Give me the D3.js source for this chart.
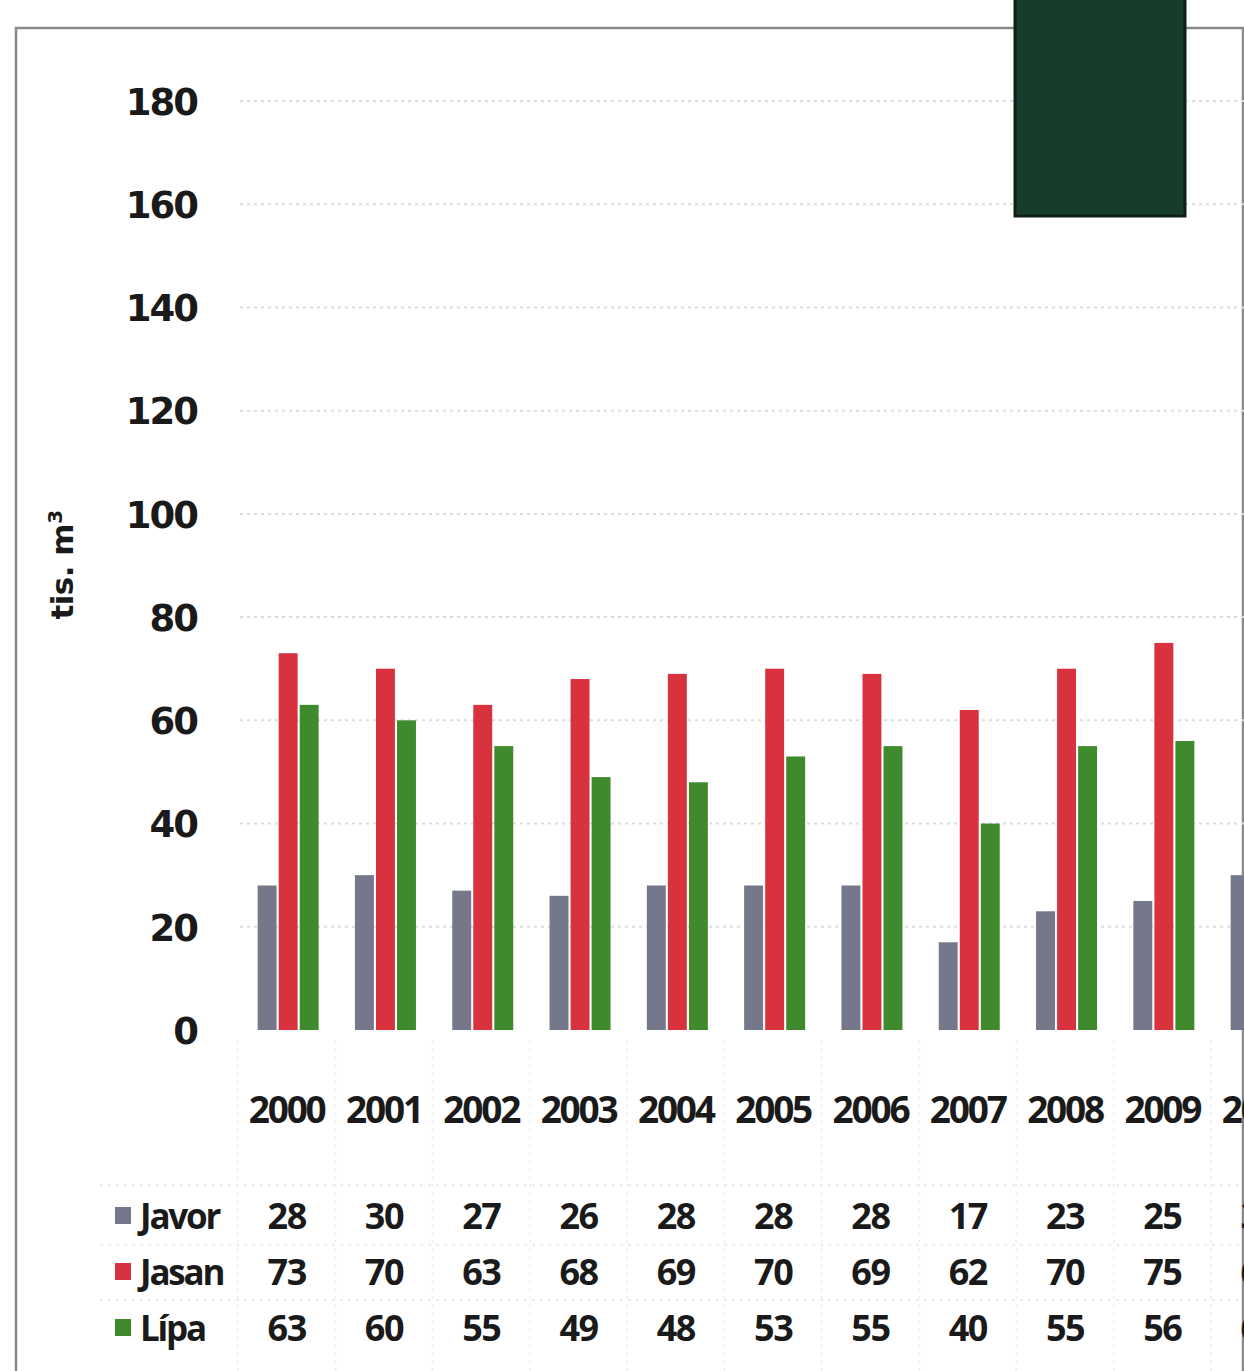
<!DOCTYPE html>
<html><head><meta charset="utf-8">
<script src="https://cdn.jsdelivr.net/npm/d3@7"></script>
<style>
html,body{margin:0;padding:0;background:#fff;overflow:hidden;width:1244px;height:1371px;}
svg{display:block;}
</style></head>
<body>
<script>
const years = ["2000","2001","2002","2003","2004","2005","2006","2007","2008","2009","2010"];
const seriesNames = ["Javor","Jasan","Lípa"];
const javor = [28,30,27,26,28,28,28,17,23,25,30];
const jasan = [73,70,63,68,69,70,69,62,70,75,65];
const lipa  = [63,60,55,49,48,53,55,40,55,56,60];
const yTicks = [0,20,40,60,80,100,120,140,160,180];
const colors = ["#75778a","#d8323e","#3e8a2c"];
const values = [javor, jasan, lipa];

const W = 1400, H = 1371;
const svg = d3.select("body").append("svg").attr("width", W).attr("height", H);

const y = d3.scaleLinear().domain([0,180]).range([1030,101]);
const x = d3.scaleBand().domain(years).range([238, 238 + 97.3*years.length]).paddingInner(0).paddingOuter(0);
const xs = d3.scaleBand().domain(seriesNames).range([-29, 32]).paddingInner(0.1);

// border
svg.append("path").attr("d","M16,1371 L16,28 L1243,28 L1243,1371")
  .attr("fill","none").attr("stroke","#8a8a8a").attr("stroke-width",2.5);

// gridlines
const gy = svg.append("g");
gy.selectAll("line").data(yTicks.filter(d=>d>0)).join("line")
  .attr("x1",240).attr("x2",1244)
  .attr("y1",d=>y(d)).attr("y2",d=>y(d))
  .attr("stroke","#dadde0").attr("stroke-width",2).attr("stroke-dasharray","3,4");

// y axis labels
const yAxis = d3.axisLeft(y).tickValues(yTicks).tickSize(0).tickPadding(0);
const ya = svg.append("g").attr("transform","translate(197,0)").call(yAxis);
ya.select(".domain").remove();
ya.selectAll("text").attr("font-family","DejaVu Sans").attr("font-weight","bold")
  .attr("font-size",37).attr("letter-spacing","-2").attr("fill","#1a1a1a").attr("dy","0.36em");

// y title
svg.append("text").attr("transform","translate(73,565) rotate(-90)")
  .attr("text-anchor","middle").attr("font-family","DejaVu Sans").attr("font-weight","bold")
  .attr("font-size",31).attr("fill","#1a1a1a").attr("letter-spacing","-0.5")
  .html('tis. m<tspan dy="-11" font-size="20">3</tspan>');

// bars
const groups = svg.append("g").selectAll("g").data(years).join("g")
  .attr("transform", d => `translate(${x(d) + x.bandwidth()/2},0)`);
groups.selectAll("rect").data((d,i) => seriesNames.map((s,k)=>({s, v: values[k][i], k})))
  .join("rect")
  .attr("x", d => xs(d.s))
  .attr("width", xs.bandwidth())
  .attr("y", d => y(d.v))
  .attr("height", d => y(0) - y(d.v))
  .attr("fill", d => colors[d.k]);

// x axis labels
const xAxis = d3.axisBottom(x).tickSize(0).tickPadding(0);
const xa = svg.append("g").attr("transform","translate(0,1110)").call(xAxis);
xa.select(".domain").remove();
xa.selectAll("text").attr("font-family","Open Sans").attr("font-weight","bold")
  .attr("font-size",37).attr("letter-spacing","-2.2").attr("fill","#1a1a1a").attr("dy","0.36em");

// table faint grid
const tg = svg.append("g");
tg.selectAll("line.h").data([1185,1245,1300]).join("line")
  .attr("x1",100).attr("x2",1244).attr("y1",d=>d).attr("y2",d=>d)
  .attr("stroke","#eaecee").attr("stroke-width",2).attr("stroke-dasharray","3,5");
tg.selectAll("line.v").data(years).join("line")
  .attr("x1",d=>x(d)).attr("x2",d=>x(d)).attr("y1",1040).attr("y2",1371)
  .attr("stroke","#f0f1f2").attr("stroke-width",2).attr("stroke-dasharray","3,5");

// data table
const rowY = [1216, 1272, 1328];
seriesNames.forEach((s,k) => {
  svg.append("rect").attr("x",115).attr("y",rowY[k]-9).attr("width",16).attr("height",17).attr("fill",colors[k]);
  svg.append("text").attr("x",140).attr("y",rowY[k]).attr("dy","0.36em")
    .attr("font-family","Open Sans").attr("font-weight","bold").attr("font-size",35)
    .attr("letter-spacing","-2.2").attr("fill","#1a1a1a").text(s);
  svg.append("g").selectAll("text").data(values[k]).join("text")
    .attr("x",(d,i)=>x(years[i]) + x.bandwidth()/2)
    .attr("y",rowY[k]).attr("dy","0.36em").attr("text-anchor","middle")
    .attr("font-family","Open Sans").attr("font-weight","bold").attr("font-size",36)
    .attr("letter-spacing","-1.5").attr("fill","#1a1a1a").text(d=>d);
});

// dark green block at top
svg.append("rect").attr("x",1015).attr("y",-5).attr("width",170).attr("height",221)
  .attr("fill","#163d2b").attr("stroke","#0d1f16").attr("stroke-width",3);
</script>
</body></html>
